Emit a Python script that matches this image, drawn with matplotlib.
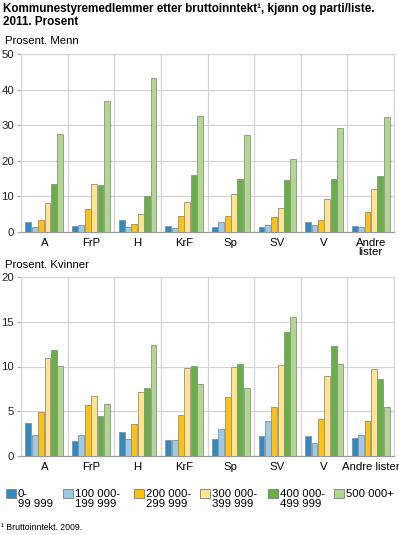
import matplotlib
matplotlib.use('Agg')
import matplotlib.pyplot as plt
from matplotlib.patches import Rectangle
import numpy as np

plt.rcParams['font.family'] = ['Liberation Sans', 'DejaVu Sans']

parties = ['A', 'FrP', 'H', 'KrF', 'Sp', 'SV', 'V', 'Andre\nlister']
parties_k = ['A', 'FrP', 'H', 'KrF', 'Sp', 'SV', 'V', 'Andre lister']
groups = ['0-\n99 999', '100 000-\n199 999', '200 000-\n299 999',
          '300 000-\n399 999', '400 000-\n499 999', '500 000+']
colors = ['#2f8ac4', '#9dcae6', '#ffc20f', '#fee58c', '#67b044', '#b2d890']

# Menn: one list per income group, values per party
menn = [
    [2.8, 1.7, 3.3, 1.7, 1.5, 1.5, 2.9, 1.7],
    [1.3, 2.0, 1.5, 1.2, 2.9, 2.0, 2.0, 1.3],
    [3.4, 6.4, 2.3, 4.5, 4.4, 4.2, 3.4, 5.6],
    [8.1, 13.5, 5.1, 8.4, 10.8, 6.7, 9.3, 12.1],
    [13.5, 13.3, 10.0, 16.0, 14.9, 14.7, 14.9, 15.7],
    [27.5, 36.8, 43.2, 32.5, 27.2, 20.5, 29.1, 32.4],
]
kvinner = [
    [3.7, 1.7, 2.7, 1.8, 1.9, 2.2, 2.2, 2.0],
    [2.35, 2.4, 1.9, 1.8, 3.0, 3.9, 1.5, 2.35],
    [4.9, 5.7, 3.6, 4.55, 6.6, 5.5, 4.1, 3.9],
    [11.0, 6.7, 7.1, 9.8, 9.9, 10.2, 8.9, 9.7],
    [11.8, 4.5, 7.6, 10.1, 10.3, 13.9, 12.3, 8.6],
    [10.1, 5.8, 12.4, 8.1, 7.6, 15.5, 10.3, 5.5],
]

W, H = 399, 535
fig = plt.figure(figsize=(W / 100, H / 100), dpi=100)

fig.text(3 / W, 1 - 3 / H, 'Kommunestyremedlemmer etter bruttoinntekt\u00b9, kjønn og parti/liste.\n2011. Prosent',
         fontsize=8.4, fontweight='bold', va='top', ha='left', linespacing=1.15)


def draw(ax, data, labels, ymax, step):
    x = np.arange(len(labels)) + 0.5
    w = 0.127
    for j, vals in enumerate(data):
        ax.bar(x + (j - 2.5) * 0.137, vals, width=w, color=colors[j],
               edgecolor='#8f8f8f', linewidth=0.6, zorder=3)
    ax.set_xlim(0, len(labels))
    ax.set_ylim(0, ymax)
    ax.set_yticks(np.arange(0, ymax + 1, step))
    ax.set_xticks(x)
    ax.set_xticklabels(labels, fontsize=8.2, linespacing=0.95)
    ax.set_xticks(np.arange(0, len(labels) + 1), minor=True)
    ax.grid(True, which='minor', axis='x', color='#d4d4d4', lw=0.9, zorder=0)
    ax.grid(True, which='major', axis='y', color='#d4d4d4', lw=0.9, zorder=0)
    ax.tick_params(axis='x', which='both', length=0, pad=4)
    ax.tick_params(axis='y', length=3, color='#aaaaaa', labelsize=8.2, pad=2)
    for s in ['top', 'left', 'right']:
        ax.spines[s].set_color('#d4d4d4')
    ax.spines['bottom'].set_color('#999999')
    for lab in ax.get_yticklabels():
        lab.set_color('#222222')


ax1 = fig.add_axes([21 / W, 1 - 232 / H, 373 / W, 178 / H])
draw(ax1, menn, parties, 50, 10)
fig.text(5 / W, 1 - 41 / H, 'Prosent. Menn', fontsize=8.2, va='center')

ax2 = fig.add_axes([21 / W, 1 - 456 / H, 373 / W, 179 / H])
draw(ax2, kvinner, parties_k, 20, 5)
fig.text(5 / W, 1 - 265 / H, 'Prosent. Kvinner', fontsize=8.2, va='center')

# legend
lx = [6, 63, 134, 200, 268, 334]
for j, g in enumerate(groups):
    x0 = lx[j] / W
    fig.patches.append(Rectangle((x0, 1 - 498 / H), 10 / W, 9 / H,
                                 transform=fig.transFigure, facecolor=colors[j],
                                 edgecolor='#8a8a8a', lw=0.7))
    fig.text(x0 + 12 / W, 1 - 489 / H, g, fontsize=8.2, va='top',
             ha='left', linespacing=1.02)

fig.text(1 / W, 1 - 528 / H, '\u00b9 Bruttoinntekt. 2009.', fontsize=6.3, va='center')

fig.savefig('out.png', dpi=100)
